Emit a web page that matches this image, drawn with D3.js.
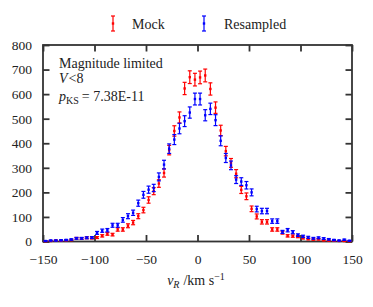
<!DOCTYPE html>
<html>
<head>
<meta charset="utf-8">
<script src="https://cdn.jsdelivr.net/npm/d3@7"></script>
<style>
  body { margin: 0; background: #fff; }
  svg text { font-family: "Liberation Serif", "DejaVu Serif", serif; fill: #222; }
</style>
</head>
<body>
<div id="chart"></div>
<script>
// bin centres of v_R (km/s), 5 km/s bins
const binCenters = d3.range(60).map(i => -147.5 + i * 5);

const mockCounts = [1, 2, 4, 3, 5, 6, 13, 12, 15, 14,
    16, 23, 31, 28, 49, 49, 64, 77, 103, 128,
    169, 205, 236, 279, 372, 450, 505, 623, 669, 659,
    668, 676, 621, 545, 452, 368, 320, 276, 210, 184,
    133, 102, 80, 80, 49, 49, 36, 23, 22, 20,
    14, 10, 8, 9, 5, 4, 3, 2, 2, 1];
const mockErrors = [1, 1.4, 2, 1.7, 2.2, 2.4, 3.6, 3.5, 3.9, 3.7,
    4, 4.8, 5.6, 5.3, 7, 7, 8, 8.8, 10.1, 11.3,
    13, 14.3, 15.4, 16.7, 19.3, 21.2, 22.5, 25, 25.9, 25.7,
    25.8, 26, 24.9, 23.3, 21.3, 19.2, 17.9, 16.6, 14.5, 13.6,
    11.5, 10.1, 8.9, 8.9, 7, 7, 6, 4.8, 4.7, 4.5,
    3.7, 3.2, 2.8, 3, 2.2, 2, 1.7, 1.4, 1.4, 1];

const resampledCounts = [2, 4, 4, 5, 6, 8, 13, 13, 15, 16,
    35, 44, 46, 66, 66, 88, 103, 117, 156, 190,
    211, 218, 263, 313, 378, 415, 460, 490, 525, 580,
    580, 514, 540, 494, 410, 340, 310, 252, 244, 229,
    200, 132, 124, 124, 83, 83, 39, 46, 38, 26,
    21, 17, 13, 15, 12, 9, 6, 4, 7, 3];
const resampledErrors = [1.4, 2, 2, 2.2, 2.4, 2.8, 3.6, 3.6, 3.9, 4,
    5.9, 6.6, 6.8, 8.1, 8.1, 9.4, 10.1, 10.8, 12.5, 13.8,
    14.5, 14.8, 16.2, 17.7, 19.4, 20.4, 21.4, 22.1, 22.9, 24.1,
    24.1, 22.7, 23.2, 22.2, 20.2, 18.4, 17.6, 15.9, 15.6, 15.1,
    14.1, 11.5, 11.1, 11.1, 9.1, 9.1, 6.2, 6.8, 6.2, 5.1,
    4.6, 4.1, 3.6, 3.9, 3.5, 3, 2.4, 2, 2.6, 1.7];

const xTicks = [-150, -100, -50, 0, 50, 100, 150];
const yTicks = [0, 100, 200, 300, 400, 500, 600, 700, 800];

const series = [
    { name: 'Mock', color: '#f00', counts: mockCounts, errors: mockErrors },
    { name: 'Resampled', color: '#00f', counts: resampledCounts, errors: resampledErrors }
];

const serif = '"Liberation Serif", "DejaVu Serif", serif';

function draw() {
    const width = 373, height = 307;
    const plotLeft = 43, plotRight = 352, plotTop = 45, plotBottom = 241.5;

    const svg = d3.select('#chart').append('svg')
        .attr('width', width)
        .attr('height', height);

    const x = d3.scaleLinear().domain([-150, 150]).range([plotLeft, plotRight]);
    const y = d3.scaleLinear().domain([0, 800]).range([plotBottom, plotTop]);

    const tickLen = 6.5;

    // ticks on all four sides, pointing inward
    svg.append('g')
        .attr('transform', `translate(0,${plotBottom})`)
        .call(d3.axisBottom(x).tickValues(xTicks).tickSize(-tickLen).tickPadding(13)
            .tickFormat(d => d < 0 ? '\u2212' + Math.abs(d) : d))
        .attr('font-family', serif)
        .call(g => g.select('.domain').remove())
        .call(g => g.selectAll('text').style('font-size', '13.5px').style('font-family', serif).attr('fill', '#222'));

    svg.append('g')
        .attr('transform', `translate(0,${plotTop})`)
        .call(d3.axisTop(x).tickValues(xTicks).tickSize(-tickLen).tickFormat(''))
        .call(g => g.select('.domain').remove());

    svg.append('g')
        .attr('transform', `translate(${plotLeft},0)`)
        .call(d3.axisLeft(y).tickValues(yTicks).tickSize(-tickLen).tickPadding(11))
        .attr('font-family', serif)
        .call(g => g.select('.domain').remove())
        .call(g => g.selectAll('text').style('font-size', '13.5px').style('font-family', serif).attr('fill', '#222'));

    svg.append('g')
        .attr('transform', `translate(${plotRight},0)`)
        .call(d3.axisRight(y).tickValues(yTicks).tickSize(-tickLen).tickFormat(''))
        .call(g => g.select('.domain').remove());

    svg.selectAll('.tick line').attr('stroke', '#333').attr('stroke-width', 1.8);

    svg.append('rect')
        .attr('x', plotLeft).attr('y', plotTop)
        .attr('width', plotRight - plotLeft).attr('height', plotBottom - plotTop)
        .attr('fill', 'none')
        .attr('stroke', '#333')
        .attr('stroke-width', 1.8);

    // error bars
    const cap = 2;
    series.forEach(s => {
        const g = svg.append('g').attr('stroke', s.color).attr('fill', s.color);
        const pts = binCenters.map((v, i) => ({ v, n: s.counts[i], e: s.errors[i] }));
        const pt = g.selectAll('g').data(pts).join('g');
        pt.append('line')
            .attr('x1', d => x(d.v)).attr('x2', d => x(d.v))
            .attr('y1', d => y(d.n - d.e)).attr('y2', d => y(d.n + d.e))
            .attr('stroke-width', 1.2);
        pt.append('line')
            .attr('x1', d => x(d.v) - cap).attr('x2', d => x(d.v) + cap)
            .attr('y1', d => y(d.n + d.e)).attr('y2', d => y(d.n + d.e))
            .attr('stroke-width', 1.2);
        pt.append('line')
            .attr('x1', d => x(d.v) - cap).attr('x2', d => x(d.v) + cap)
            .attr('y1', d => y(d.n - d.e)).attr('y2', d => y(d.n - d.e))
            .attr('stroke-width', 1.2);
        pt.append('rect')
            .attr('x', d => x(d.v) - 1.2).attr('y', d => y(d.n) - 1.2)
            .attr('width', 2.4).attr('height', 2.4)
            .attr('stroke', 'none');
    });

    // legend
    const legendPos = [
        { icon: 113, text: 132 },
        { icon: 204, text: 224 }
    ];
    series.forEach((s, i) => {
        const lx = legendPos[i].icon;
        const g = svg.append('g').attr('stroke', s.color).attr('stroke-width', 1.2);
        g.append('line').attr('x1', lx).attr('x2', lx).attr('y1', 16).attr('y2', 31);
        g.append('line').attr('x1', lx - cap).attr('x2', lx + cap).attr('y1', 16).attr('y2', 16);
        g.append('line').attr('x1', lx - cap).attr('x2', lx + cap).attr('y1', 31).attr('y2', 31);
        g.append('rect').attr('x', lx - 1.2).attr('y', 22.3).attr('width', 2.4).attr('height', 2.4)
            .attr('stroke', 'none').attr('fill', s.color);
        svg.append('text')
            .attr('x', legendPos[i].text).attr('y', 28.5)
            .style('font-size', '14px')
            .text(s.name);
    });

    // annotation
    svg.append('text').attr('x', 59).attr('y', 68).style('font-size', '14px')
        .text('Magnitude limited');
    const vt = svg.append('text').attr('x', 59).attr('y', 83).style('font-size', '14px');
    vt.append('tspan').style('font-style', 'italic').text('V');
    vt.append('tspan').attr('dx', 1).text('<8');
    const pks = svg.append('text').attr('x', 59).attr('y', 101).style('font-size', '14px');
    pks.append('tspan').style('font-style', 'italic').text('p');
    pks.append('tspan').attr('dy', 3).style('font-size', '10px').text('KS');
    pks.append('tspan').attr('dy', -3).attr('dx', 3).text('=\u00a07.38E-11');

    // x axis title
    const xt = svg.append('text').attr('x', 196).attr('y', 285)
        .attr('text-anchor', 'middle').style('font-size', '14px');
    xt.append('tspan').style('font-style', 'italic').text('v');
    xt.append('tspan').attr('dy', 3).style('font-size', '10px').style('font-style', 'italic').text('R');
    xt.append('tspan').attr('dy', -3).attr('dx', 4).text('/km s');
    xt.append('tspan').attr('dy', -5).style('font-size', '10px').text('\u22121');
}

draw();
</script>
</body>
</html>
